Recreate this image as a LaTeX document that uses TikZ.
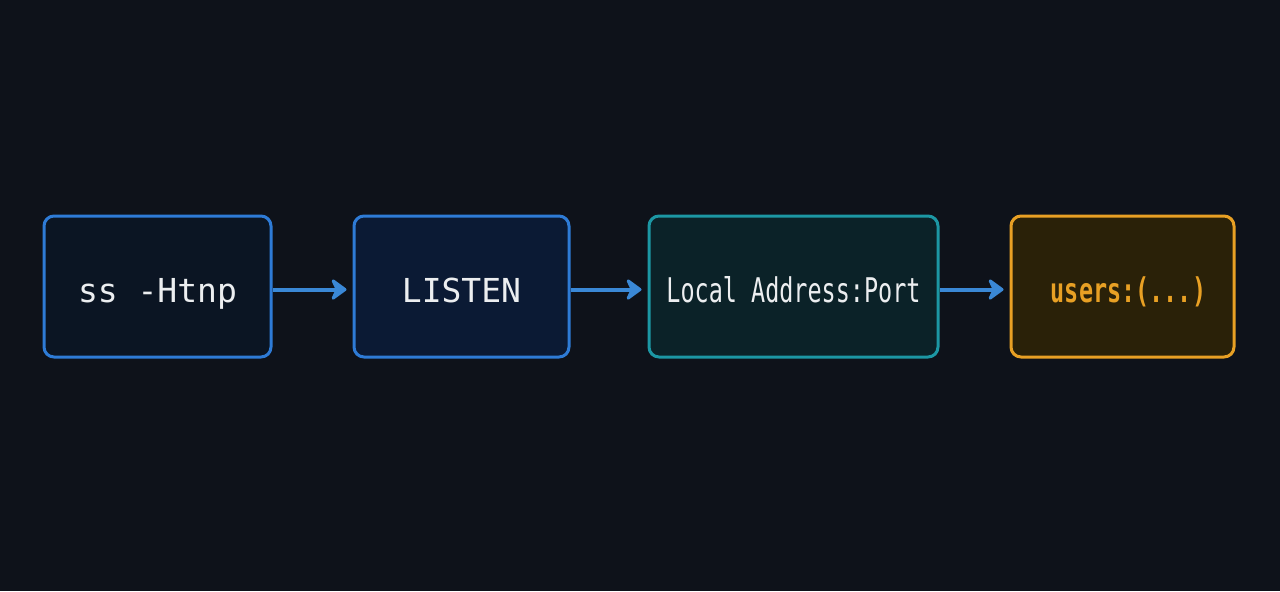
\documentclass[tikz,border=0pt]{standalone}
\usepackage{fontspec}
\setmonofont{DejaVu Sans Mono}
\newfontfamily\condmono[FakeStretch=0.69]{DejaVu Sans Mono}
\usetikzlibrary{arrows.meta}
\definecolor{bg}{HTML}{0E121A}
\definecolor{blueline}{HTML}{2E7BD6}
\definecolor{bluefillA}{HTML}{0B1523}
\definecolor{bluefillB}{HTML}{0B1A34}
\definecolor{tealline}{HTML}{1C97A4}
\definecolor{tealfill}{HTML}{0B2228}
\definecolor{orline}{HTML}{E8A024}
\definecolor{orfill}{HTML}{2A2108}
\definecolor{arrowc}{HTML}{3A88D6}
\definecolor{txt}{HTML}{ECEEF0}
\tikzset{
  box/.style={rounded corners=5pt, line width=1.5pt, inner sep=0pt,
    minimum height=70.5pt, text height=15.5pt, text depth=0pt, text=txt,
    font=\ttfamily\fontsize{16.5}{18}\selectfont},
  flow/.style={draw=arrowc, line width=2pt, -{Stealth[length=9pt,width=13pt,inset=3pt,round]}}
}
\begin{document}
\begin{tikzpicture}[x=0.5pt,y=-0.5pt]
\fill[bg] (0,0) rectangle (1280,591);
\useasboundingbox (0,0) rectangle (1280,591);
\node[box, draw=blueline, fill=bluefillA, minimum width=113.5pt] (a) at (157.5,286.5) {ss -Htnp};
\node[box, draw=blueline, fill=bluefillB, minimum width=107.5pt] (b) at (461.5,286.5) {LISTEN};
\node[box, draw=tealline, fill=tealfill, minimum width=144.5pt, font=\condmono\fontsize{17}{18}\selectfont] (c) at (793.5,286.5) {Local Address:Port};
\node[box, draw=orline, fill=orfill, minimum width=111.5pt, text=orline, font=\condmono\bfseries\fontsize{17}{18}\selectfont] (d) at (1122.5,286.5) {\hspace*{6pt}users:(...)};
\draw[flow] ([yshift=-1.5pt]a.east) -- ([xshift=-3pt,yshift=-1.5pt]b.west);
\draw[flow] ([yshift=-1.5pt]b.east) -- ([xshift=-3pt,yshift=-1.5pt]c.west);
\draw[flow] ([yshift=-1.5pt]c.east) -- ([xshift=-3pt,yshift=-1.5pt]d.west);
\end{tikzpicture}
\end{document}
